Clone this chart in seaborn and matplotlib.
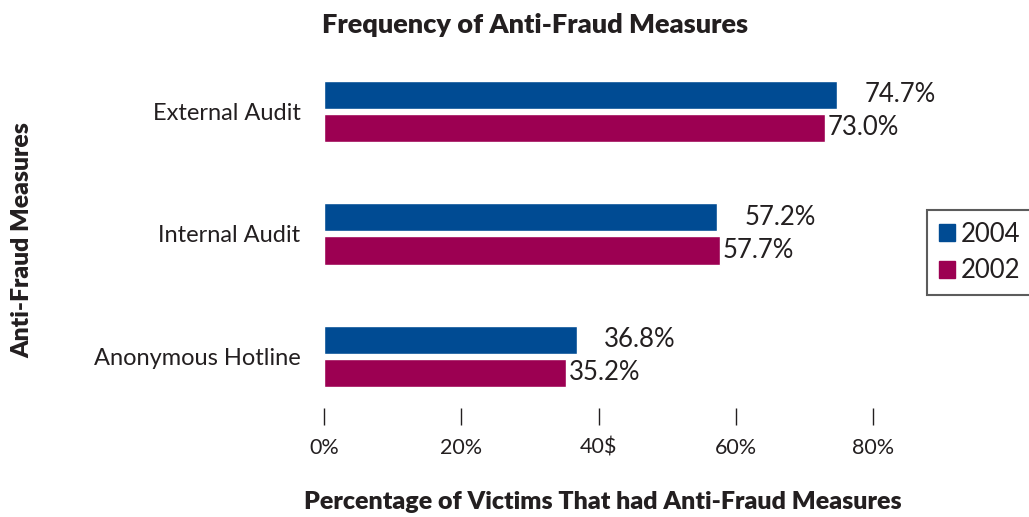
import seaborn as sns
import pandas as pd
import matplotlib.pyplot as plt

# data
measures = ['External Audit', 'Internal Audit', 'Anonymous Hotline']
pct_2004 = [74.7, 57.2, 36.8]
pct_2002 = [73.0, 57.7, 35.2]
years = ['2004', '2002']
tick_vals = [0, 20, 40, 60, 80]
tick_labels = ['0%', '20%', '40$', '60%', '80%']

df = pd.DataFrame({
    'Measure': measures * 2,
    'Year': [years[0]] * 3 + [years[1]] * 3,
    'Pct': pct_2004 + pct_2002,
})

sns.set_theme(style='white')
plt.rcParams['font.family'] = ['Lato', 'DejaVu Sans']
plt.rcParams['text.color'] = '#231f20'

fig = plt.figure(figsize=(10.29, 5.17), dpi=100)
ax = fig.add_axes([324 / 1029, 1 - 425 / 517, (928 - 324) / 1029, (425 - 60) / 517])

palette = {'2004': '#004b93', '2002': '#9c0052'}
sns.barplot(data=df, x='Pct', y='Measure', hue='Year', order=measures,
            hue_order=years, palette=palette, width=0.54, gap=0.15,
            saturation=1, orient='h', ax=ax, legend=False)

ax.set_xlim(0, 88)
ax.set_ylim(2.56, -0.42)
ax.set_xticks(tick_vals)
ax.set_xticklabels(tick_labels, fontsize=15.5, color='#231f20')
ax.tick_params(axis='x', direction='in', length=12, width=1, color='#231f20', pad=9, bottom=True)
ax.tick_params(axis='y', length=0, pad=17, labelsize=17, labelcolor='#231f20')
for s in ax.spines.values():
    s.set_visible(False)
ax.set_xlabel('')
ax.set_ylabel('')

# value labels
ax.bar_label(ax.containers[0], labels=[f'{v:.1f}%' for v in pct_2004],
             padding=20, fontsize=18.5, color='#231f20')
ax.bar_label(ax.containers[1], labels=[f'{v:.1f}%' for v in pct_2002],
             padding=2, fontsize=18.5, color='#231f20')

fig.text(535 / 1029, 1 - 25 / 517, 'Frequency of Anti-Fraud Measures',
         ha='center', va='center', fontsize=19.5, fontweight='heavy')
fig.text(603 / 1029, 1 - 502 / 517, 'Percentage of Victims That had Anti-Fraud Measures',
         ha='center', va='center', fontsize=18, fontweight='heavy')
fig.text(22 / 1029, 1 - 240 / 517, 'Anti-Fraud Measures', rotation=90,
         ha='center', va='center', fontsize=17.8, fontweight='heavy')

handles = [plt.Rectangle((0, 0), 1, 1, color=palette[y]) for y in years]
leg = fig.legend(handles, years, loc='upper left',
                 bbox_to_anchor=(927 / 1029, 1 - 210 / 517), fontsize=18.5,
                 frameon=True, fancybox=False, handlelength=0.65, handleheight=0.65,
                 handletextpad=0.2, borderpad=0.45, labelspacing=0.45,
                 borderaxespad=0)
leg.get_frame().set_edgecolor('#333333')
leg.get_frame().set_linewidth(1.5)

fig.savefig('out.png', dpi=100)
